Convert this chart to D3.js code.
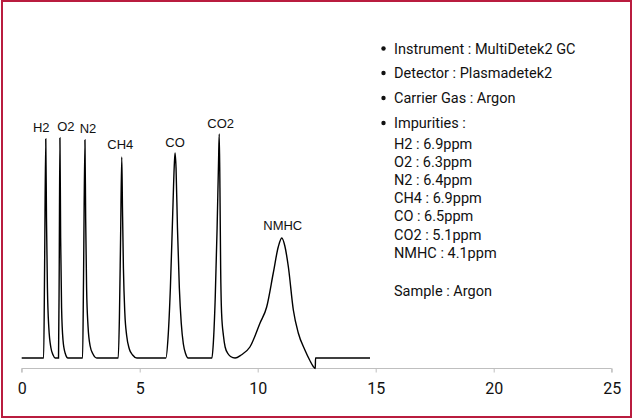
<!DOCTYPE html>
<html><head><meta charset="utf-8">
<script src="https://cdn.jsdelivr.net/npm/d3@7/dist/d3.min.js"></script>
<style>
html,body{margin:0;padding:0;background:#fff;}
svg{display:block;}
</style></head>
<body>
<svg id="c" width="633" height="420"></svg>
<script>
// Chromatogram trace: [retention time (min), signal]
const trace = [
  [0,0],[0.93,0],[0.97,90],[1.02,219],[1.05,140],[1.09,70],[1.15,30],[1.24,10],[1.33,3],[1.42,0],
  [1.56,0],[1.59,90],[1.62,220],[1.65,120],[1.69,50],[1.75,18],[1.84,5],[1.96,0],
  [2.58,0],[2.62,80],[2.68,218],[2.71,140],[2.75,70],[2.81,32],[2.9,12],[3.02,4],[3.18,0],
  [4.09,0],[4.14,40],[4.19,120],[4.24,201],[4.27,150],[4.31,90],[4.37,45],[4.45,22],[4.56,9],[4.7,3],[4.88,0],
  [6.11,0],[6.2,20],[6.3,70],[6.4,145],[6.47,195],[6.5,205],[6.54,190],[6.6,130],[6.68,70],[6.76,35],[6.85,14],[6.95,4],[7.05,0],
  [8.06,0],[8.12,15],[8.2,60],[8.28,130],[8.34,195],[8.37,224],[8.40,170],[8.43,90],[8.47,45],[8.55,22],[8.62,11],[8.75,4],[8.85,1.5],[9.04,0],
  [9.3,3],[9.67,11],[10.1,35],[10.38,51],[10.66,85],[10.87,111],[11.02,120],[11.15,112],[11.3,91],[11.51,48],[11.72,25],[12.0,8],[12.2,-2],[12.36,-8.7],[12.44,-10.5],
  [12.45,0],[14.76,0]
];
// Peak names, retention times, apex signal
const peakNames = ["H2","O2","N2","CH4","CO","CO2","NMHC"];
const peakTimes = [1.02,1.62,2.68,4.24,6.5,8.37,11.02];
const peakHeights = [219,220,218,201,205,224,120];
// Axis ticks
const xTicks = [0,5,10,15,20,25];
// Info text
const infoBullets = ["Instrument : MultiDetek2 GC","Detector : Plasmadetek2","Carrier Gas : Argon","Impurities :"];
const impurities = ["H2 : 6.9ppm","O2 : 6.3ppm","N2 : 6.4ppm","CH4 : 6.9ppm","CO : 6.5ppm","CO2 : 5.1ppm","NMHC : 4.1ppm"];
const sampleText = "Sample : Argon";

const svg = d3.select("#c");
const x = d3.scaleLinear().domain([0,25]).range([21.7,611.7]);
const y = d3.scaleLinear().domain([0,100]).range([358,258]);

// border
svg.append("rect").attr("x",2).attr("y",1).attr("width",629).attr("height",416)
  .attr("fill","none").attr("stroke","#b91c3f").attr("stroke-width",2);

// axis
const axisY = 368.5;
const ax = d3.axisBottom(x).tickValues(xTicks).tickSize(4).tickPadding(10).tickFormat(d3.format("d"));
const g = svg.append("g").attr("transform",`translate(0,${axisY})`).call(ax);
g.select(".domain").attr("stroke","#bfbfbf").attr("d",`M${x(0)},4V0H${x(25)}V4`);
g.selectAll(".tick line").attr("stroke","#bfbfbf");
g.selectAll(".tick text").attr("fill","#111").style("font-family","Roboto, sans-serif").style("font-size","16px");

// trace
const line = d3.line().x(d=>x(d[0])).y(d=>y(d[1])).curve(d3.curveMonotoneX);
svg.append("path").datum(trace).attr("d",line).attr("fill","none").attr("stroke","#000").attr("stroke-width",1.4);

// peak labels (small horizontal nudges to avoid overlap)
const labelDx = [-4.5,6,3,-1.5,0,1.5,1];
const labelDy = [-7,-7,-7,-8,-6.5,-6,-8];
svg.append("g").selectAll("text").data(peakNames).join("text")
  .attr("x",(d,i)=>x(peakTimes[i])+labelDx[i])
  .attr("y",(d,i)=>y(peakHeights[i])+labelDy[i])
  .attr("text-anchor","middle")
  .style("font-family","'Liberation Sans', Arial, sans-serif").style("font-size","13px").attr("fill","#111")
  .text(d=>d);

// info block
const info = svg.append("g").style("font-family","Roboto, sans-serif").style("font-size","14.5px").attr("fill","#111");
const bulletY = [53.5,78,103,128];
infoBullets.forEach((t,i)=>{
  info.append("circle").attr("cx",383.5).attr("cy",bulletY[i]-5).attr("r",2.2).attr("fill","#111");
  info.append("text").attr("x",394).attr("y",bulletY[i]).text(t);
});
impurities.forEach((t,i)=>{
  info.append("text").attr("x",394).attr("y",148.5+i*18.2).text(t);
});
info.append("text").attr("x",394).attr("y",296).text(sampleText);
</script>
</body></html>
